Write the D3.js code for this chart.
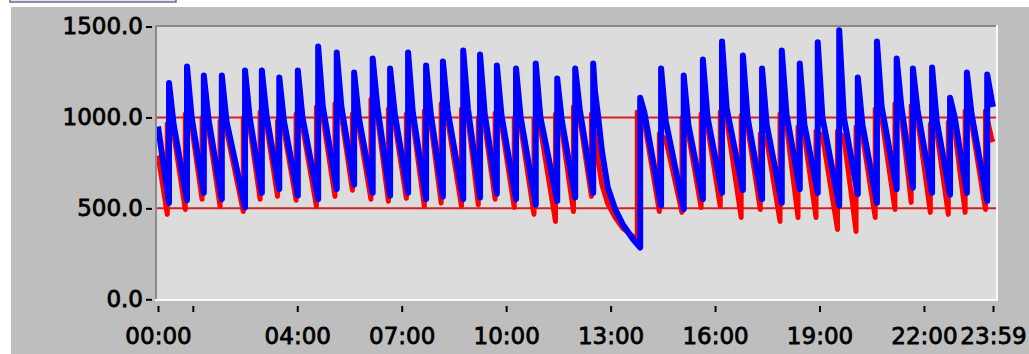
<!DOCTYPE html>
<html>
<head>
<meta charset="utf-8">
<script src="https://cdn.jsdelivr.net/npm/d3@7"></script>
<style>
  body { margin: 0; background: #fff; }
  svg { display: block; }
  text { font-family: "DejaVu Sans", sans-serif; font-size: 23px; fill: #000; stroke: #000; stroke-width: 0.8px; }
</style>
</head>
<body>
<div id="container"></div>
<script>
// axis
const tickTimes = ["00:00", "01:00", "04:00", "07:00", "10:00", "13:00", "16:00", "19:00", "22:00", "23:59"];
const tickLabels = ["00:00", "", "04:00", "07:00", "10:00", "13:00", "16:00", "19:00", "22:00", "23:59"];
const yTicks = [0, 500, 1000, 1500];
const limitLines = [500, 1000];

// blue series: each cycle = trough, jump to peak, fast drop to a knee, slow decay
const blueStart = ["00:00", 950];
const blueEnd = ["23:59", 1058];
const blueRiseTimes = ["00:19", "00:50", "01:19", "01:50", "02:30", "02:59", "03:29", "04:01", "04:36", "05:08",
  "05:38", "06:10", "06:40", "07:11", "07:42", "08:11", "08:46", "09:15", "09:44", "10:17",
  "10:51", "11:28", "11:59", "12:30", "13:51", "14:27", "15:06", "15:39", "16:12", "16:48",
  "17:21", "17:55", "18:26", "18:57", "19:34", "20:06", "20:39", "21:13", "21:41", "22:14",
  "22:45", "23:14", "23:49"];
const blueTroughs = [530, 545, 585, 550, 505, 585, 605, 570, 550, 605,
  630, 585, 570, 585, 550, 565, 550, 560, 580, 550,
  520, 540, 560, 585, 285, 515, 495, 550, 585, 600,
  550, 530, 605, 585, 515, 578, 530, 605, 615, 585,
  575, 585, 540];
const bluePeaks = [1190, 1280, 1230, 1230, 1258, 1258, 1220, 1258, 1390, 1357,
  1247, 1324, 1269, 1357, 1285, 1308, 1368, 1346, 1285, 1269,
  1296, 1214, 1269, 1296, 1108, 1269, 1230, 1318, 1418, 1340,
  1269, 1368, 1296, 1413, 1479, 1219, 1418, 1324, 1269, 1274,
  1108, 1247, 1236];
const kneeTimes = ["00:27", "00:58", "01:27", "01:58", "02:38", "03:07", "03:37", "04:09", "04:44", "05:16",
  "05:46", "06:18", "06:48", "07:19", "07:50", "08:19", "08:54", "09:23", "09:52", "10:25",
  "10:59", "11:36", "12:07", null, "13:58", "14:35", "15:14", "15:47", "16:20", "16:56",
  "17:29", "18:03", "18:34", "19:05", "19:42", "20:14", "20:47", "21:21", "21:49", "22:22",
  "22:53", "23:22", "23:57"];
const blueKnees = [960, 1000, 990, 980, 1000, 1010, 980, 1000, 1060, 1060,
  1000, 1060, 1020, 1030, 1020, 1040, 1050, 1020, 1010, 1000,
  1000, 980, 1040, null, 1030, 980, 960, 1000, 1050, 1000,
  960, 1020, 960, 1000, 1000, 960, 1060, 1060, 1040, 980,
  1000, 1020, 1090];

// red series
const redStart = ["00:00", 790];
const redEnd = ["23:59", 865];
const redRiseTimes = ["00:16", "00:47", "01:16", "01:47", "02:27", "02:56", "03:26", "03:58", "04:33", "05:05",
  "05:35", "06:07", "06:37", "07:08", "07:39", "08:08", "08:43", "09:12", "09:41", "10:14",
  "10:48", "11:25", "11:56", "12:27", "13:46", "14:24", "15:03", "15:36", "16:09", "16:45",
  "17:18", "17:52", "18:23", "18:54", "19:31", "20:03", "20:36", "21:10", "21:38", "22:11",
  "22:42", "23:11", "23:46"];
const redTroughs = [467, 494, 550, 511, 483, 550, 566, 545, 511, 566,
  600, 550, 539, 555, 511, 530, 511, 520, 550, 505,
  467, 428, 483, 566, 330, 483, 478, 505, 511, 450,
  494, 428, 450, 450, 384, 373, 450, 494, 533, 478,
  467, 478, 494];
const redPeaks = [965, 1019, 1000, 980, 1000, 1030, 980, 1019, 1057, 1075,
  1019, 1100, 1047, 1019, 1036, 1075, 1047, 1000, 1025, 1000,
  990, 1019, 1060, 1019, 1030, 910, 1000, 1019, 1030, 1010,
  910, 1019, 948, 925, 925, 948, 1047, 1075, 1064, 964,
  975, 1036, 1036];
const redKnees = [910, 950, 940, 930, 950, 960, 930, 950, 1000, 1010,
  950, 1010, 970, 980, 970, 990, 1000, 960, 960, 950,
  940, 930, 990, null, 980, 880, 910, 950, 990, 950,
  880, 960, 900, 900, 890, 900, 1000, 1010, 990, 920,
  930, 970, 880];

// the long decay after 12:30
const dipTimes = ["12:33", "12:38", "12:45", "12:55", "13:08", "13:21", "13:39"];
const blueDip = [1146, 1019, 815, 616, 494, 412, 329];
const redDip = [900, 770, 630, 525, 450, 390, 345];

const W = 1029, H = 354;
const parse = d3.timeParse("%H:%M");

function buildSeries(start, end, rises, troughs, peaks, knees, extraTimes, extraVals) {
  const pts = [[parse(start[0]), start[1]]];
  const extra = extraTimes.map((t, i) => [parse(t), extraVals[i]]);
  rises.forEach((t, i) => {
    const rt = parse(t);
    const prev = pts[pts.length - 1][0];
    extra.filter(e => e[0] > prev && e[0] < rt).forEach(e => pts.push(e));
    pts.push([rt, troughs[i]]);
    pts.push([rt, peaks[i]]);
    if (kneeTimes[i] !== null) pts.push([parse(kneeTimes[i]), knees[i]]);
  });
  pts.push([parse(end[0]), end[1]]);
  return pts;
}

const blue = buildSeries(blueStart, blueEnd, blueRiseTimes, blueTroughs, bluePeaks, blueKnees, dipTimes, blueDip);
const red = buildSeries(redStart, redEnd, redRiseTimes, redTroughs, redPeaks, redKnees, dipTimes, redDip);

const svg = d3.select("#container")
  .append("svg")
  .attr("width", W)
  .attr("height", H);

svg.append("rect").attr("width", W).attr("height", H).attr("fill", "#fff");

// little tab at the top
svg.append("rect")
  .attr("x", 10).attr("y", -4).attr("width", 166).attr("height", 6)
  .attr("fill", "#e4e4ee").attr("stroke", "#6c6c96").attr("stroke-width", 1.5);

// outer panel
svg.append("rect")
  .attr("x", 11).attr("y", 7).attr("width", W - 11).attr("height", H - 7)
  .attr("fill", "#bebebe");

const plot = { left: 155, top: 25, right: 998, bottom: 301 };

svg.append("rect")
  .attr("x", plot.left).attr("y", plot.top)
  .attr("width", plot.right - plot.left).attr("height", plot.bottom - plot.top)
  .attr("fill", "#dcdcdc");

// sunken frame
svg.append("path")
  .attr("d", `M${plot.left + 1},${plot.bottom}V${plot.top + 1}H${plot.right}`)
  .attr("fill", "none").attr("stroke", "#8a8a8a").attr("stroke-width", 2);
svg.append("path")
  .attr("d", `M${plot.left},${plot.bottom - 1}H${plot.right - 1}V${plot.top}`)
  .attr("fill", "none").attr("stroke", "#fafafa").attr("stroke-width", 2);

const x = d3.scaleTime()
  .domain([parse(tickTimes[0]), parse(tickTimes[tickTimes.length - 1])])
  .range([158, 993]);

const y = d3.scaleLinear()
  .domain([0, 1500])
  .range([299.3, 26.5]);

svg.append("defs").append("clipPath").attr("id", "clip")
  .append("rect")
  .attr("x", plot.left + 2).attr("y", plot.top + 2)
  .attr("width", plot.right - plot.left - 4).attr("height", plot.bottom - plot.top - 4);

const g = svg.append("g").attr("clip-path", "url(#clip)");

g.selectAll("line.limit")
  .data(limitLines)
  .join("line")
  .attr("class", "limit")
  .attr("x1", plot.left).attr("x2", plot.right)
  .attr("y1", d => y(d)).attr("y2", d => y(d))
  .attr("stroke", "#d42020").attr("stroke-width", 2);

const line = d3.line()
  .x(d => x(d[0]))
  .y(d => y(d[1]));

g.append("path")
  .datum(red)
  .attr("fill", "none")
  .attr("stroke", "#ff0000")
  .attr("stroke-width", 5)
  .attr("stroke-linejoin", "round")
  .attr("d", line);

g.append("path")
  .datum(blue)
  .attr("fill", "none")
  .attr("stroke", "#0000ff")
  .attr("stroke-width", 6)
  .attr("stroke-linejoin", "round")
  .attr("d", line);

// y axis
const yAxis = svg.append("g")
  .attr("transform", "translate(152,0)")
  .call(d3.axisLeft(y).tickValues(yTicks).tickFormat(d3.format(".1f")).tickSize(6).tickPadding(3));
yAxis.select(".domain").remove();
yAxis.selectAll(".tick line").attr("stroke", "#000").attr("stroke-width", 2);
yAxis.selectAll(".tick text")
  .attr("font-size", null).attr("font-family", null)
  .attr("fill", "#000");

// x axis
const xAxis = svg.append("g")
  .attr("transform", "translate(0,306)")
  .call(d3.axisBottom(x)
    .tickValues(tickTimes.map(parse))
    .tickFormat((d, i) => tickLabels[i])
    .tickSize(6).tickPadding(16));
xAxis.select(".domain").remove();
xAxis.selectAll(".tick line").attr("stroke", "#000").attr("stroke-width", 2);
xAxis.selectAll(".tick text")
  .attr("font-size", null).attr("font-family", null)
  .attr("fill", "#000");
</script>
</body>
</html>
